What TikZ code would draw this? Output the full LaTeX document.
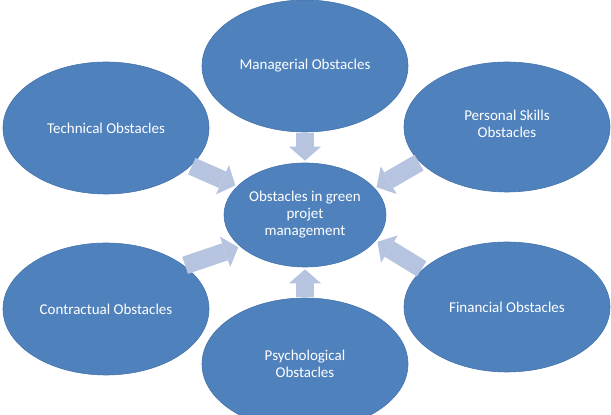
\documentclass[tikz,border=0pt]{standalone}
\usepackage{fontspec}
\setmainfont{Carlito}
\usetikzlibrary{positioning, arrows.meta, shapes.geometric}

\definecolor{obstblue}{RGB}{79,129,189}
\definecolor{obstedge}{RGB}{70,116,172}
\definecolor{flowgrey}{RGB}{183,196,224}

\tikzset{
    obstacle/.style={
        ellipse,
        draw=obstedge,
        line width=0.6pt,
        fill=obstblue,
        text=white,
        align=center,
        inner sep=0pt,
        minimum width=206pt,
        minimum height=132pt,
        font=\fontsize{15}{17}\selectfont
    },
    hub/.style={
        obstacle,
        inner xsep=-12pt,   % <-- keep the three lines from widening the ellipse
        minimum width=162pt,
        minimum height=104pt
    },
    flow/.style={
        draw=flowgrey,
        line width=18pt,
        -{Triangle[length=14pt, width=32pt, line width=0pt]},
        shorten <=1pt,
        shorten >=2pt
    }
}

\begin{document}
\begin{tikzpicture}[x=1pt, y=1pt]
    \useasboundingbox (0,0) rectangle (611,415);

    \node[hub] (centre) at (305,200) {Obstacles in green\\projet\\management};

    \node[obstacle] (managerial) at (305,349) {Managerial Obstacles};
    \node[obstacle] (technical) at (106,287) {Technical Obstacles};
    \node[obstacle, minimum height=130pt] (personal) at (507,288) {Personal Skills\\Obstacles\\[-10pt]};
    \node[obstacle] (contractual) at (106,106) {Contractual Obstacles};
    \node[obstacle, minimum height=130pt] (financial) at (507,108) {Financial Obstacles};
    \node[obstacle] (psychological) at (305,51) {Psychological\\Obstacles};

    \draw[flow] (managerial.south) -- (centre.north);
    \draw[flow] (technical.336) -- (centre.157);
    \draw[flow] (personal.202) -- (centre.21);
    \draw[flow] (contractual.29) -- (centre.206);
    \draw[flow] (financial.156) -- (centre.340);
    \draw[flow] (psychological.north) -- (centre.south);
\end{tikzpicture}
\end{document}
